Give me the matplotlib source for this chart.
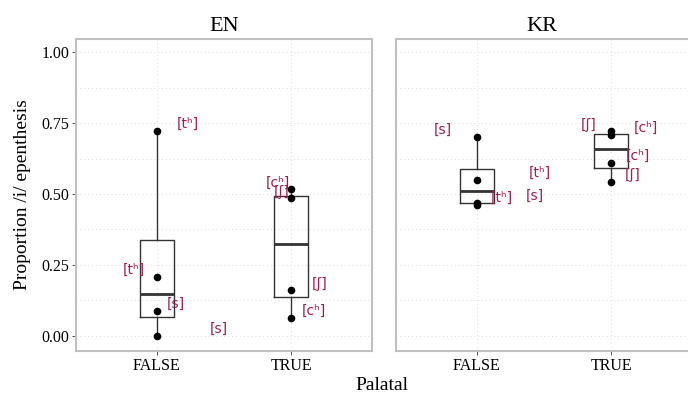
import matplotlib
matplotlib.use('Agg')
import matplotlib.pyplot as plt

# data
panels = ['EN', 'KR']
categories = ['FALSE', 'TRUE']

en_false = [0.0, 0.088, 0.209, 0.722]
en_true = [0.064, 0.162, 0.485, 0.519]
kr_false = [0.462, 0.470, 0.550, 0.700]
kr_true = [0.543, 0.609, 0.708, 0.723]

# jittered label positions (x in category units, y in proportion)
en_label_text = ['[tʰ]', '[tʰ]', '[s]', '[s]', '[cʰ]', '[ʃ]', '[ʃ]', '[cʰ]']
en_label_x = [1.23, 0.83, 1.14, 1.46, 1.90, 1.93, 2.21, 2.17]
en_label_y = [0.746, 0.232, 0.113, 0.025, 0.539, 0.507, 0.183, 0.088]

kr_label_text = ['[s]', '[tʰ]', '[tʰ]', '[s]', '[ʃ]', '[cʰ]', '[cʰ]', '[ʃ]']
kr_label_x = [0.75, 1.47, 1.19, 1.43, 1.83, 2.26, 2.20, 2.16]
kr_label_y = [0.725, 0.574, 0.486, 0.493, 0.743, 0.732, 0.634, 0.567]

serif = 'Liberation Serif'
label_col = '#9e1f55'
box_col = '#333333'
grid_col = '#dcdcdc'

fig = plt.figure(figsize=(6.88, 3.99), dpi=100)
ax1 = fig.add_axes([76 / 688, 48 / 399, 296 / 688, 312 / 399])
ax2 = fig.add_axes([396 / 688, 48 / 399, 292 / 688, 312 / 399])

panel_data = [
    (ax1, [en_false, en_true], en_label_text, en_label_x, en_label_y, 2.6),
    (ax2, [kr_false, kr_true], kr_label_text, kr_label_x, kr_label_y, 0.4 + 292 / 134.5),
]

for i, (ax, vals, ltxt, lx, ly, xmax) in enumerate(panel_data):
    # dotted grid under everything
    for yy in [0, 0.125, 0.25, 0.375, 0.5, 0.625, 0.75, 0.875, 1.0]:
        ax.axhline(yy, color=grid_col, lw=0.7, ls=(0, (1, 3)), zorder=0)
    for xx in [1, 2]:
        ax.axvline(xx, color=grid_col, lw=0.7, ls=(0, (1, 3)), zorder=0)

    ax.boxplot(vals, positions=[1, 2], widths=0.25, showfliers=False,
               showcaps=False, whis=1.5,
               boxprops=dict(color=box_col, lw=1.0),
               whiskerprops=dict(color=box_col, lw=1.0),
               medianprops=dict(color=box_col, lw=2.0),
               zorder=2)
    for k, v in enumerate(vals):
        ax.plot([k + 1] * len(v), v, 'o', color='black', ms=4.5, zorder=3)

    for t, x, y in zip(ltxt, lx, ly):
        ax.text(x, y, t, color=label_col, fontsize=10, ha='center', va='center',
                family='DejaVu Sans', zorder=4)

    ax.set_xlim(0.4, xmax)
    ax.set_ylim(-0.053, 1.046)
    ax.set_xticks([1, 2])
    ax.set_xticklabels(categories, family=serif, fontsize=11.5)
    ax.tick_params(axis='x', length=3, width=0.6, color='#333333', pad=2)
    for s in ax.spines.values():
        s.set_color('#c0c0c0')
        s.set_linewidth(1.5)
    if i == 0:
        ax.set_yticks([0, 0.25, 0.5, 0.75, 1.0])
        ax.set_yticklabels(['0.00', '0.25', '0.50', '0.75', '1.00'], family=serif, fontsize=11.5)
        ax.tick_params(axis='y', length=3, width=0.6, color='#333333', pad=2)
        ax.set_ylabel('Proportion /i/ epenthesis', family=serif, fontsize=14, labelpad=7)
    else:
        ax.set_yticks([])
        ax.spines['right'].set_visible(False)
    ax.set_title(panels[i], family=serif, fontsize=16, pad=6)

fig.text(382 / 688, 1 - 386 / 399, 'Palatal', family=serif, fontsize=14,
         ha='center', va='center')

fig.savefig('out.png', dpi=100)
